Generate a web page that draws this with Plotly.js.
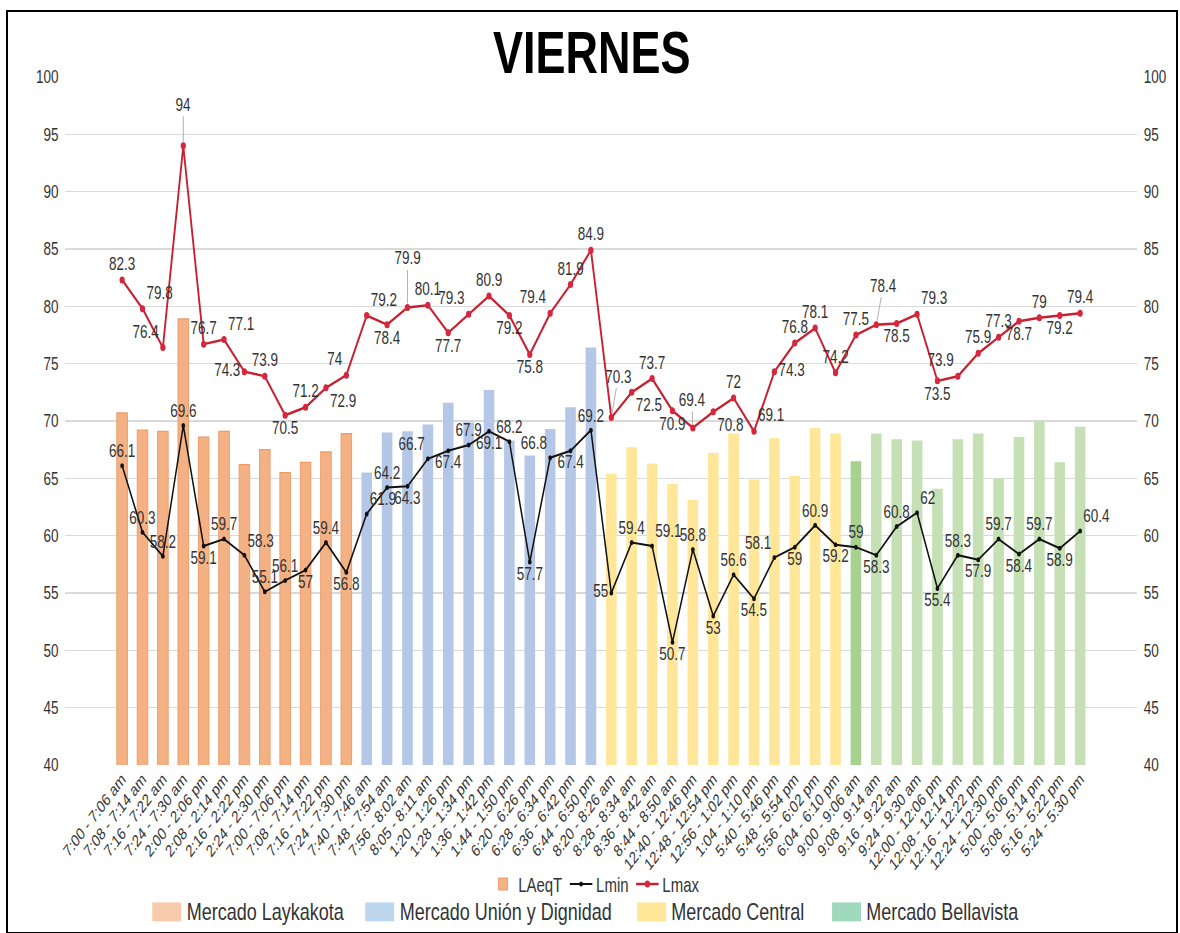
<!DOCTYPE html>
<html>
<head>
<meta charset="utf-8">
<script src="https://cdn.plot.ly/plotly-3.0.1.min.js"></script>
<style>
  html, body { margin:0; padding:0; background:#fff; overflow:hidden; width:1180px; height:933px; }
  #wrap { position:absolute; left:0; top:0; width:1180px; height:933px; overflow:hidden; }
  /* the reference chart is horizontally compressed (narrow type); reproduce with a horizontal scale */
  #chart { position:absolute; left:0; top:0; width:1573px; height:933px; transform:scaleX(0.75); transform-origin:0 0; }
  #frame { position:absolute; left:6px; top:10px; width:1168px; height:920px; border:2px solid #000; pointer-events:none; }
</style>
</head>
<body>
<div id="wrap"><div id="chart"></div></div>
<div id="frame"></div>
<script>
// ---------- data ----------
const categories = [
  "7:00 - 7:06 am","7:08 - 7:14 am","7:16 - 7:22 am","7:24 - 7:30 am",
  "2:00 - 2:06 pm","2:08 - 2:14 pm","2:16 - 2:22 pm","2:24 - 2:30 pm",
  "7:00 - 7:06 pm","7:08 - 7:14 pm","7:16 - 7:22 pm","7:24 - 7:30 pm",
  "7:40 - 7:46 am","7:48 - 7:54 am","7:56 - 8:02 am","8:05 - 8:11 am",
  "1:20 - 1:26 pm","1:28 - 1:34 pm","1:36 - 1:42 pm","1:44 - 1:50 pm",
  "6:20 - 6:26 pm","6:28 - 6:34 pm","6:36 - 6:42 pm","6:44 - 6:50 pm",
  "8:20 - 8:26 am","8:28 - 8:34 am","8:36 - 8:42 am","8:44 - 8:50 am",
  "12:40 - 12:46 pm","12:48 - 12:54 pm","12:56 - 1:02 pm","1:04 - 1:10 pm",
  "5:40 - 5:46 pm","5:48 - 5:54 pm","5:56 - 6:02 pm","6:04 - 6:10 pm",
  "9:00 - 9:06 am","9:08 - 9:14 am","9:16 - 9:22 am","9:24 - 9:30 am",
  "12:00 - 12:06 pm","12:08 - 12:14 pm","12:16 - 12:22 pm","12:24 - 12:30 pm",
  "5:00 - 5:06 pm","5:08 - 5:14 pm","5:16 - 5:22 pm","5:24 - 5:30 pm"
];

const laeqt = [
  70.7, 69.2, 69.1, 78.9, 68.6, 69.1, 66.2, 67.5, 65.5, 66.4, 67.3, 68.9,
  65.5, 69.0, 69.1, 69.7, 71.6, 69.9, 72.7, 68.3, 67.0, 69.3, 71.2, 76.4,
  65.4, 67.7, 66.3, 64.5, 63.1, 67.2, 68.9, 64.9, 68.5, 65.2, 69.4, 68.9,
  66.5, 68.9, 68.4, 68.3, 64.1, 68.4, 68.9, 65.0, 68.6, 70.0, 66.4, 69.5
];

const lmin = [
  66.1, 60.3, 58.2, 69.6, 59.1, 59.7, 58.3, 55.1, 56.1, 57, 59.4, 56.8,
  61.9, 64.2, 64.3, 66.7, 67.4, 67.9, 69.1, 68.2, 57.7, 66.8, 67.4, 69.2,
  55, 59.4, 59.1, 50.7, 58.8, 53, 56.6, 54.5, 58.1, 59, 60.9, 59.2,
  59, 58.3, 60.8, 62, 55.4, 58.3, 57.9, 59.7, 58.4, 59.7, 58.9, 60.4
];

const lmax = [
  82.3, 79.8, 76.4, 94, 76.7, 77.1, 74.3, 73.9, 70.5, 71.2, 72.9, 74,
  79.2, 78.4, 79.9, 80.1, 77.7, 79.3, 80.9, 79.2, 75.8, 79.4, 81.9, 84.9,
  70.3, 72.5, 73.7, 70.9, 69.4, 70.8, 72, 69.1, 74.3, 76.8, 78.1, 74.2,
  77.5, 78.4, 78.5, 79.3, 73.5, 73.9, 75.9, 77.3, 78.7, 79, 79.2, 79.4
];

const markets = ["Mercado Laykakota", "Mercado Unión y Dignidad", "Mercado Central", "Mercado Bellavista"];
const marketSizes = [12, 12, 12, 12];
const yTicks = [40, 45, 50, 55, 60, 65, 70, 75, 80, 85, 90, 95, 100];

// ---------- styles ----------
const barColors = ["#F4B183", "#B4C7E7", "#FFE699", "#C5E0B4"];
const barLines  = ["#EE9A66", "rgba(0,0,0,0)", "rgba(0,0,0,0)", "rgba(0,0,0,0)"];
const swatchColors = ["#F8CBAD", "#BDD7EE", "#FFE699", "#9FD9BC"];
const highlightBar = 36;          // darker green bar
const highlightColor = "#A9D18E";

// label placement (style): textposition per point; "leader" = label lifted with a leader line
const lmaxPos = [
  "top center","top right","top left","leader","top center","top right","middle left","top center","bottom center","top center","bottom right","top left",
  "top right","bottom center","leader","top center","bottom center","top left","top center","bottom center","bottom center","top left","top center","top center",
  "leader","bottom right","top center","bottom center","leader","bottom right","top center","top right","middle right","top center","top center","top center",
  "top center","leader","bottom center","top right","bottom center","top left","top center","top center","bottom center","top center","bottom center","top center"
];
const lminPos = [
  "top center","top center","top center","top center","bottom center","top center","top right","top center","top center","bottom center","top center","bottom center",
  "top right","top center","bottom center","top left","bottom center","top center","bottom center","top center","bottom center","top left","bottom center","top center",
  "middle left","top center","top right","bottom center","top center","bottom center","top center","bottom center","top left","bottom center","top center","bottom center",
  "top center","bottom center","top center","top right","bottom center","top center","bottom center","top center","bottom center","top center","bottom center","top right"
];
// leader-label offsets in pixels (style), keyed by point index
const leaderOffsets = { 3: [0, -41], 14: [0, -49], 24: [7, -41], 28: [-1, -28], 37: [7, -39] };

// per-bar colours from market membership
const colors = [], lineCols = [];
marketSizes.forEach((n, m) => { for (let k = 0; k < n; k++) { colors.push(barColors[m]); lineCols.push(barLines[m]); } });
colors[highlightBar] = highlightColor;

const FONT = "'Liberation Sans', Arial, sans-serif";
const TXT = "#333333";
const SX = 0.75;                 // horizontal compression of the whole figure
const W = Math.round(1180 / SX); // layout width before compression
const LABEL_SIZE = 18;

const traces = [
  {
    type: "bar", name: "LAeqT", x: categories, y: laeqt,
    marker: { color: colors, line: { color: lineCols, width: 1.2 } },
    legend: "legend", hoverinfo: "x+y"
  },
  {
    type: "scatter", mode: "lines+markers+text", name: "Lmin", x: categories, y: lmin,
    line: { color: "#111111", width: 2 }, marker: { color: "#111111", size: 5 },
    text: lmin.map(String), textposition: lminPos,
    textfont: { family: FONT, size: LABEL_SIZE, color: TXT }, cliponaxis: false, legend: "legend"
  },
  {
    type: "scatter", mode: "lines+markers+text", name: "Lmax", x: categories, y: lmax,
    line: { color: "#C8202F", width: 2.5 }, marker: { color: "#D7263D", size: 7 },
    text: lmax.map((v, i) => lmaxPos[i] === "leader" ? "" : String(v)),
    textposition: lmaxPos.map(p => p === "leader" ? "top center" : p),
    textfont: { family: FONT, size: LABEL_SIZE, color: TXT }, cliponaxis: false, legend: "legend"
  },
  // invisible trace to activate the right-hand axis
  { type: "scatter", mode: "markers", x: [categories[0]], y: [null], yaxis: "y2", showlegend: false, hoverinfo: "skip" }
];

// leader-line labels for Lmax
const annotations = [];
lmaxPos.forEach((p, i) => {
  if (p !== "leader") return;
  const off = leaderOffsets[i];
  annotations.push({
    x: categories[i], y: lmax[i], xref: "x", yref: "y",
    text: String(lmax[i]), showarrow: true, arrowhead: 0, arrowwidth: 1, arrowcolor: "#A6A6A6",
    ax: off[0] / SX, ay: off[1], standoff: 4,
    font: { family: FONT, size: LABEL_SIZE, color: TXT }
  });
});

// market colour key (second legend row) in plot-paper fractions
const plotL = 65, plotW = 1072, plotB = 765.5, plotH = 688.5;
const px = v => (v - plotL) / plotW;
const py = v => (plotB - v) / plotH;
const keySwatchX = [152, 365, 637, 832];
const shapes = [];
markets.forEach((name, m) => {
  shapes.push({
    type: "rect", xref: "paper", yref: "paper",
    x0: px(keySwatchX[m]), x1: px(keySwatchX[m] + 29), y0: py(922), y1: py(903),
    fillcolor: swatchColors[m], line: { width: 0 }
  });
  annotations.push({
    xref: "paper", yref: "paper", x: px(keySwatchX[m] + 33), y: py(912),
    xanchor: "left", yanchor: "middle", showarrow: false, text: name,
    font: { family: FONT, size: 24, color: TXT }
  });
});

const yaxisCommon = {
  range: [40, 100], tickvals: yTicks, ticktext: yTicks.map(String),
  tickfont: { family: FONT, size: 18, color: TXT },
  zeroline: false, showline: false, ticks: ""
};

const layout = {
  width: W, height: 933,
  paper_bgcolor: "#ffffff", plot_bgcolor: "#ffffff",
  margin: { l: plotL / SX, r: 43 / SX, t: 77, b: 933 - plotB, pad: 0, autoexpand: false },
  font: { family: FONT, color: TXT },
  title: {
    text: "<b>VIERNES</b>",
    font: { family: FONT, size: 60, color: "#000000" },
    x: 592 / 1180, xref: "container", y: 1 - 52 / 933, yref: "container", yanchor: "middle", xanchor: "center"
  },
  barmode: "overlay", bargap: 0.48,
  showlegend: true,
  xaxis: {
    type: "category", categoryorder: "array", categoryarray: categories,
    tickangle: -45, tickfont: { family: FONT, size: 17, color: TXT },
    showgrid: false, zeroline: false, showline: false, ticks: "", automargin: false
  },
  yaxis: Object.assign({}, yaxisCommon, { showgrid: true, gridcolor: "#D9D9D9", gridwidth: 1.5, side: "left", ticklabelstandoff: 8 }),
  yaxis2: Object.assign({}, yaxisCommon, { overlaying: "y", side: "right", showgrid: false, ticklabelstandoff: 8 }),
  legend: {
    orientation: "h", x: 0.495, xanchor: "center",
    yref: "container", y: 1 - 884 / 933, yanchor: "middle",
    font: { family: FONT, size: 20, color: TXT }, itemwidth: 30, tracegroupgap: 0,
    bgcolor: "rgba(0,0,0,0)"
  },
  shapes: shapes,
  annotations: annotations
};

Plotly.newPlot("chart", traces, layout, { staticPlot: true, displayModeBar: false });
</script>
</body>
</html>
